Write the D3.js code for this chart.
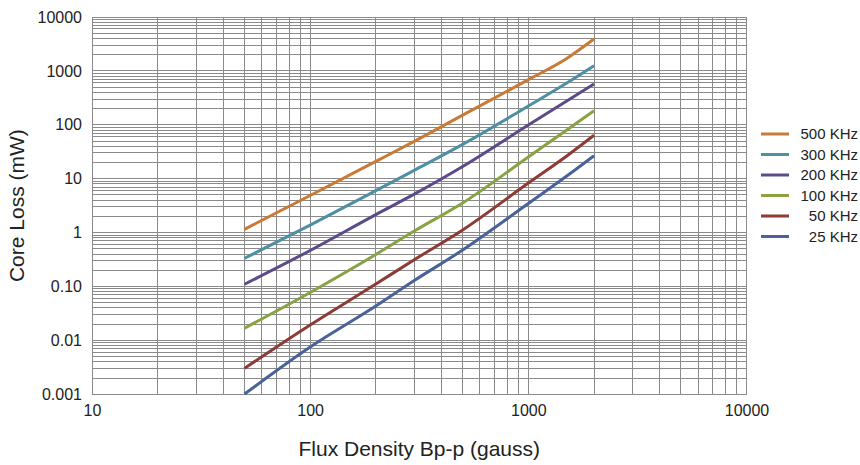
<!DOCTYPE html>
<html>
<head>
<meta charset="utf-8">
<script src="https://cdn.jsdelivr.net/npm/d3@7"></script>
<style>
  html, body { margin: 0; padding: 0; background: #fff; }
  svg { display: block; font-family: "Liberation Sans", Arial, sans-serif; }
</style>
</head>
<body>
<svg id="chart" width="860" height="465"></svg>
<script>
// ---- data ----
const fluxDensity = [50, 100, 200, 300, 500, 1000, 1500, 2000];
const series = ["500 KHz", "300 KHz", "200 KHz", "100 KHz", "50 KHz", "25 KHz"];
const loss500 = [1.15, 4.88, 20.9, 49.2, 151, 687, 1700, 3900];
const loss300 = [0.333, 1.38, 6.0, 14.3, 43.4, 223, 596, 1250];
const loss200 = [0.11, 0.466, 2.16, 5.16, 16.8, 99, 277, 571];
const loss100 = [0.0168, 0.0774, 0.392, 1.07, 3.54, 25.3, 80, 183];
const loss50  = [0.00303, 0.0193, 0.111, 0.314, 1.12, 8.3, 26.4, 64];
const loss25  = [0.00101, 0.00755, 0.0435, 0.129, 0.475, 3.47, 11.2, 26.7];
const seriesColors = ["#c97a35", "#4f8fa3", "#5d4a8a", "#89a343", "#8e3a35", "#4a629a"];
const xTickValues = [10, 100, 1000, 10000];
const xTickLabels = ["10", "100", "1000", "10000"];
const yTickValues = [10000, 1000, 100, 10, 1, 0.1, 0.01, 0.001];
const yTickLabels = ["10000", "1000", "100", "10", "1", "0.10", "0.01", "0.001"];

const allLoss = [loss500, loss300, loss200, loss100, loss50, loss25];

// ---- layout ----
const svg = d3.select("#chart");
const pLeft = 92, pRight = 746.5, pTop = 17, pBottom = 394.3;
const gridColor = "#8a8a8a";

const x = d3.scaleLog().domain([10, 10000]).range([pLeft, pRight]);
const y = d3.scaleLog().domain([0.001, 10000]).range([pBottom, pTop]);

// minor + major grid values
const xGrid = [];
for (let d = 10; d < 10000; d *= 10) for (let k = 1; k <= 9; k++) xGrid.push(d * k);
xGrid.push(10000);
const yGrid = [];
for (let e = -3; e < 4; e++) for (let k = 1; k <= 9; k++) yGrid.push(k * Math.pow(10, e));
yGrid.push(10000);

const grid = svg.append("g").attr("shape-rendering", "crispEdges");
grid.selectAll("line.v").data(xGrid).join("line").attr("class", "v")
  .attr("x1", d => x(d)).attr("x2", d => x(d))
  .attr("y1", pTop).attr("y2", pBottom)
  .attr("stroke", gridColor).attr("stroke-width", 1);
grid.selectAll("line.h").data(yGrid).join("line").attr("class", "h")
  .attr("x1", pLeft).attr("x2", pRight)
  .attr("y1", d => y(d)).attr("y2", d => y(d))
  .attr("stroke", gridColor).attr("stroke-width", 1);

// axes labels
const xAxis = d3.axisBottom(x).tickValues(xTickValues)
  .tickFormat((d, i) => xTickLabels[i]).tickSize(0).tickPadding(10);
const gx = svg.append("g").attr("transform", `translate(0,${pBottom})`).call(xAxis);
gx.select(".domain").remove();
gx.selectAll("text").attr("font-size", 16).attr("fill", "#222")
  .attr("font-family", '"Liberation Sans", Arial, sans-serif');

const yAxis = d3.axisLeft(y).tickValues(yTickValues)
  .tickFormat((d, i) => yTickLabels[i]).tickSize(0).tickPadding(10);
const gy = svg.append("g").attr("transform", `translate(${pLeft},0)`).call(yAxis);
gy.select(".domain").remove();
gy.selectAll("text").attr("font-size", 16).attr("fill", "#222")
  .attr("font-family", '"Liberation Sans", Arial, sans-serif');

// axis titles
svg.append("text")
  .attr("x", (pLeft + pRight) / 2).attr("y", 456)
  .attr("text-anchor", "middle").attr("font-size", 21).attr("fill", "#222")
  .text("Flux Density Bp-p (gauss)");
svg.append("text")
  .attr("transform", `translate(24,${(pTop + pBottom) / 2}) rotate(-90)`)
  .attr("text-anchor", "middle").attr("font-size", 21).attr("fill", "#222")
  .text("Core Loss (mW)");

// series lines
const line = d3.line()
  .x(d => x(d[0])).y(d => y(d[1]))
  .curve(d3.curveMonotoneX);
svg.append("g").selectAll("path").data(allLoss).join("path")
  .attr("d", vals => line(fluxDensity.map((f, i) => [f, vals[i]])))
  .attr("fill", "none")
  .attr("stroke", (d, i) => seriesColors[i])
  .attr("stroke-width", 3)
  .attr("stroke-linecap", "butt");

// legend
const legY = d3.scalePoint().domain(series).range([134, 236.5]);
const leg = svg.append("g");
leg.selectAll("line").data(series).join("line")
  .attr("x1", 761).attr("x2", 789)
  .attr("y1", d => legY(d)).attr("y2", d => legY(d))
  .attr("stroke", (d, i) => seriesColors[i]).attr("stroke-width", 3);
leg.selectAll("text").data(series).join("text")
  .attr("x", 858).attr("y", d => legY(d)).attr("dy", "0.36em")
  .attr("text-anchor", "end").attr("font-size", 15).attr("fill", "#222")
  .text(d => d);
</script>
</body>
</html>
